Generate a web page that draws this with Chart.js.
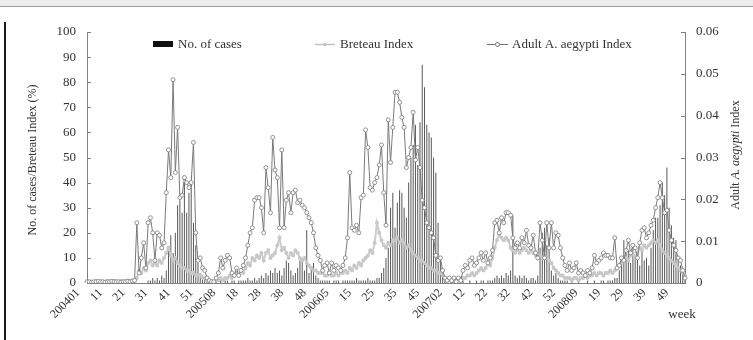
<!DOCTYPE html>
<html>
<head>
<meta charset="utf-8">
<script src="https://cdn.jsdelivr.net/npm/chart.js@4.4.1/dist/chart.umd.min.js"></script>
<style>
  html, body { margin: 0; padding: 0; background: #fff; }
  #wrap { position: relative; width: 753px; height: 340px; }
  #topband { position: absolute; left: 0; top: 0; width: 753px; height: 6px; background: #ebebeb; border-bottom: 1px solid #9c9c9c; }
  #leftline { position: absolute; left: 4px; top: 22px; width: 2px; height: 318px; background: #1a1a1a; }
</style>
</head>
<body>
<div id="wrap">
  <canvas id="myChart"></canvas>
  <div id="topband"></div>
  <div id="leftline"></div>
</div>
<script>
(function () {
  'use strict';

  // weeks 1..53 for every year, 2004-2008
  const years = [2004, 2005, 2006, 2007, 2008];
  const weeksPerYear = 53;
  const tickLabels = ['200401', '11', '21', '31', '41', '51', '200508', '18', '28', '38', '48',
    '200605', '15', '25', '35', '45', '200702', '12', '22', '32', '42', '52',
    '200809', '19', '29', '39', '49'];

  const weekCategories = [];
  years.forEach(function (y) {
    for (let w = 1; w <= weeksPerYear; w++) weekCategories.push(y + String(w).padStart(2, '0'));
  });

  // No. of cases (left axis)
  const casesCounts = [
    // 2004
    0,0,0,0,0,0,0,0,0,0, 0,0,0,0,0,0,0,0,0,0, 0,0,0,0,0,0,0,
    1,1,2,1,2,1,3,2,5,14, 19,12,20,31,33,28,40,28,36,40, 24,15,8,4,3,2,
    // 2005
    1,1,0,0,1,0,1,0,1,1, 0,1,1,0,1,1,1,1,2,1, 1,2,1,2,3,2,4,3,5,4,
    6,4,5,3,6,9,8,5,3,4, 6,9,10,5,21,4,6,8,3,2, 1,1,1,
    // 2006
    1,1,0,1,1,1,0,1,1,1, 1,1,1,2,1,1,1,1,2,1, 1,
    1,2,2,4,6,10,14,30,36,22, 32,37,36,30,26,40,50,55,63,47, 64,87,78,63,60,58,50,44,24,10, 4,2,
    // 2007
    0,0,0,1,0,0,0,1,0,0, 1,0,0,1,0,1,1,0,1,1, 1,
    2,3,2,3,2,4,3,5,27,3, 2,3,2,3,2,1,2,2,1,3, 14,20,22,15,18,5,3,4,2,1, 1,1,
    // 2008
    1,0,1,0,0,1,0,0,0,1, 0,0,1,0,0,1,1,0,1,1, 1,2,2,
    5,10,17,12,13,8,15,10,11,7, 14,9,10,7,14,21,26,26,31,40, 35,46,30,23,18,17,10,7,5,2
  ];

  // Breteau Index % (left axis)
  const breteauIndex = [
    // 2004
    0.5,0.6,0.4,0.5,0.7,0.5,0.4,0.6,0.5,0.8, 0.6,0.5,0.7,0.6,0.5,0.8,0.6,0.7,1,0.8, 1,
    1,2,5,4,6,5,8,9,7,8, 7,9,8,10,12,14,11,9,10,8, 7,6,6,5,5,4,4,3,3,3, 2,2,
    // 2005
    1,0.5,0.3,0.5,1,1,2,1,2,2, 3,2,3,4,3,5,4,6,8,7, 10,9,11,10,12,9,12,13,10,11,
    12,15,18,13,14,12,10,12,11,13, 12,10,9,10,8,7,6,5,5,4, 4,4,3,
    // 2006
    3,4,3,3,4,3,4,4,5,4, 6,5,7,6,8,7,9,10,11,13, 12,16,24,20,17,15,14,16,15,17,
    17,18,16,17,16,14,15,13,12,11, 10,9,9,8,7,6,6,5,5,4, 4,3,2,
    // 2007
    1,1,0.5,1,1,1,2,2,2,3, 3,4,3,4,5,6,5,6,8,7, 10,14,17,19,18,17,18,17,14,13,
    12,13,12,13,14,13,12,13,12,11, 10,11,10,11,10,9,8,6,5,4, 3,3,2,
    // 2008
    2,2,1,2,2,1,2,2,3,2, 3,3,4,3,4,4,3,4,4,5, 4,5,6,7,8,9,10,9,11,12,
    10,12,14,13,15,14,15,16,17,16, 17,15,13,12,11,10,9,8,7,6, 5,4,3
  ];

  // Adult A. aegypti Index (right axis)
  const adultIndex = [
    // 2004
    0.0003,0.0003,0.0002,0.0003,0.0003,0.0004,0.0003,0.0003,0.0002,0.0003,
    0.0003,0.0004,0.0003,0.0003,0.0003,0.0002,0.0003,0.0003,0.0004,0.0003, 0.0005,
    0.0006,0.0144,0.0024,0.006,0.0096,0.0036,0.0144,0.0156,0.012,0.0054,
    0.012,0.0114,0.0084,0.0096,0.0216,0.0318,0.0252,0.0486,0.0264,0.0372,
    0.0204,0.021,0.0252,0.024,0.0228,0.024,0.0336,0.012,0.0054,0.006, 0.0036,0.003,
    // 2005
    0.0012,0.0006,0.0003,0.0003,0.0012,0.0024,0.006,0.0036,0.0054,0.0066,
    0.006,0.0024,0.0018,0.0036,0.0018,0.003,0.0042,0.006,0.009,0.012,
    0.0132,0.0198,0.0204,0.0204,0.018,0.012,0.0276,0.0228,0.0168,0.0348,
    0.027,0.0252,0.0132,0.0318,0.0132,0.0198,0.0216,0.0168,0.0216,0.0222,
    0.0192,0.0198,0.0186,0.018,0.0168,0.0156,0.0144,0.012,0.0084,0.0066,
    0.0054,0.003,0.0042,
    // 2006
    0.0048,0.0024,0.0048,0.003,0.0042,0.0036,0.003,0.0042,0.006,0.0108,
    0.0264,0.0132,0.0126,0.0138,0.012,0.0204,0.021,0.0366,0.0324,0.0228,
    0.0222,0.024,0.0252,0.0282,0.033,0.0216,0.0138,0.039,0.0288,0.0372,
    0.0456,0.0456,0.0432,0.0396,0.0372,0.0276,0.03,0.0324,0.0408,0.0294,
    0.0324,0.0276,0.0198,0.018,0.0144,0.0132,0.012,0.0108,0.0066,0.0054,
    0.006,0.003,0.0012,
    // 2007
    0.0006,0.0012,0.0006,0.0012,0.0003,0.0012,0.0006,0.003,0.0042,0.0036,
    0.0054,0.006,0.0042,0.0048,0.006,0.0072,0.0054,0.0072,0.0048,0.006,
    0.0078,0.0144,0.015,0.012,0.0156,0.0144,0.0168,0.0168,0.0162,0.0108,
    0.0084,0.0096,0.0084,0.0108,0.0096,0.0126,0.009,0.0084,0.0114,0.0072,
    0.006,0.0144,0.0102,0.006,0.0144,0.0084,0.0144,0.0084,0.012,0.0114,
    0.0084,0.006,0.0042,
    // 2008
    0.003,0.0048,0.003,0.0036,0.0048,0.0024,0.003,0.0024,0.0018,0.003,
    0.0024,0.0036,0.0066,0.0048,0.0054,0.006,0.0072,0.0066,0.0066,0.006,
    0.006,0.0108,0.0036,0.0042,0.006,0.0054,0.0078,0.0102,0.0072,0.009,
    0.0084,0.006,0.0096,0.0126,0.0132,0.0108,0.012,0.0138,0.015,0.018,
    0.0204,0.024,0.0204,0.0168,0.0174,0.0126,0.0102,0.009,0.0078,0.006,
    0.0054,0.003,0.0012
  ];

  const serif = '"Liberation Serif", "Times New Roman", serif';
  Chart.defaults.font.family = serif;
  Chart.defaults.color = '#333';

  // legend, axis titles, inward tick marks, "week"
  const decorPlugin = {
    id: 'decor',
    afterDraw: function (chart) {
      const c = chart.ctx;
      const a = chart.chartArea;
      const yL = chart.scales.y;
      const yR = chart.scales.y1;
      c.save();
      c.strokeStyle = '#808080';
      c.lineWidth = 1;
      yL.ticks.forEach(function (t, i) {
        const py = Math.round(yL.getPixelForTick(i)) + 0.5;
        c.beginPath(); c.moveTo(a.left, py); c.lineTo(a.left + 4, py); c.stroke();
      });
      yR.ticks.forEach(function (t, i) {
        const py = Math.round(yR.getPixelForTick(i)) + 0.5;
        c.beginPath(); c.moveTo(a.right - 4, py); c.lineTo(a.right, py); c.stroke();
      });

      // legend
      c.font = '13px ' + serif;
      c.textBaseline = 'middle';
      c.textAlign = 'left';
      c.fillStyle = '#111';
      c.fillRect(153, 41, 20, 6);
      c.fillStyle = '#333';
      c.fillText('No. of cases', 178, 45);

      c.strokeStyle = '#c4c4c4'; c.lineWidth = 1.5;
      c.beginPath(); c.moveTo(315, 44.5); c.lineTo(335, 44.5); c.stroke();
      c.fillStyle = '#bbb';
      c.beginPath(); c.arc(325, 44.5, 1.5, 0, Math.PI * 2); c.fill();
      c.fillStyle = '#333';
      c.fillText('Breteau Index', 340, 45);

      c.strokeStyle = '#777'; c.lineWidth = 1;
      c.beginPath(); c.moveTo(487, 44.5); c.lineTo(508, 44.5); c.stroke();
      c.fillStyle = '#fff';
      c.beginPath(); c.arc(497.5, 44.5, 2, 0, Math.PI * 2); c.fill(); c.stroke();
      c.fillStyle = '#333';
      c.fillText('Adult A. aegypti Index', 512, 45);

      // left title
      c.save();
      c.font = '12px ' + serif;
      c.translate(33, 160);
      c.rotate(-Math.PI / 2);
      c.textAlign = 'center';
      c.fillText('No. of cases/Breteau Index (%)', 0, 0);
      c.restore();

      // right title with italic species name
      c.save();
      c.translate(736, 155);
      c.rotate(-Math.PI / 2);
      c.textAlign = 'left';
      const parts = [['Adult ', ''], ['A. aegypti', 'italic '], [' Index', '']];
      let total = 0;
      parts.forEach(function (p) { c.font = p[1] + '12px ' + serif; total += c.measureText(p[0]).width; });
      let px = -total / 2;
      parts.forEach(function (p) {
        c.font = p[1] + '12px ' + serif;
        c.fillText(p[0], px, 0);
        px += c.measureText(p[0]).width;
      });
      c.restore();

      // x axis name
      c.font = '13px ' + serif;
      c.textAlign = 'center';
      c.fillText('week', 682, 315);
      c.restore();
    }
  };

  const ctx = document.getElementById('myChart').getContext('2d');
  const chart = new Chart(ctx, {
    type: 'bar',
    data: {
      labels: weekCategories,
      datasets: [{
        type: 'line',
        label: 'Adult A. aegypti Index',
        data: adultIndex,
        yAxisID: 'y1',
        borderColor: '#7a7a7a',
        borderWidth: 1,
        pointRadius: 2,
        pointBackgroundColor: '#fff',
        pointBorderColor: '#7a7a7a',
        pointBorderWidth: 0.8,
        tension: 0,
        order: 1
      }, {
        type: 'line',
        label: 'Breteau Index',
        data: breteauIndex,
        yAxisID: 'y',
        borderColor: '#cccccc',
        borderWidth: 2,
        pointRadius: 1,
        pointBackgroundColor: '#c8c8c8',
        pointBorderColor: '#c8c8c8',
        tension: 0,
        order: 2
      }, {
        type: 'bar',
        label: 'No. of cases',
        data: casesCounts,
        yAxisID: 'y',
        backgroundColor: '#5a5a5a',
        categoryPercentage: 0.45,
        barPercentage: 1,
        order: 3
      }]
    },
    options: {
      responsive: true,
      maintainAspectRatio: false,
      animation: false,
      layout: { padding: { left: 0, right: 0, top: 32, bottom: 0 } },
      plugins: { legend: { display: false }, tooltip: { enabled: false } },
      scales: {
        x: {
          offset: false,
          grid: { display: false, drawTicks: false },
          border: { color: '#808080' },
          ticks: {
            autoSkip: false,
            maxRotation: 45,
            minRotation: 45,
            padding: 3,
            labelOffset: -9,
            font: { size: 12 },
            callback: function (val, idx) {
              return idx % 10 === 0 ? tickLabels[idx / 10] : null;
            }
          },
          afterFit: function (s) { s.height = 57; }
        },
        y: {
          position: 'left',
          min: 0,
          max: 100,
          ticks: { stepSize: 10, padding: 11, font: { size: 13 } },
          grid: { display: false, drawTicks: false },
          border: { color: '#808080' },
          afterFit: function (s) { s.width = 87; }
        },
        y1: {
          position: 'right',
          min: 0,
          max: 0.06,
          ticks: { stepSize: 0.01, padding: 11, font: { size: 13 } },
          grid: { display: false, drawTicks: false },
          border: { color: '#808080' },
          afterFit: function (s) { s.width = 68; }
        }
      }
    },
    plugins: [decorPlugin]
  });
})();
</script>
</body>
</html>
